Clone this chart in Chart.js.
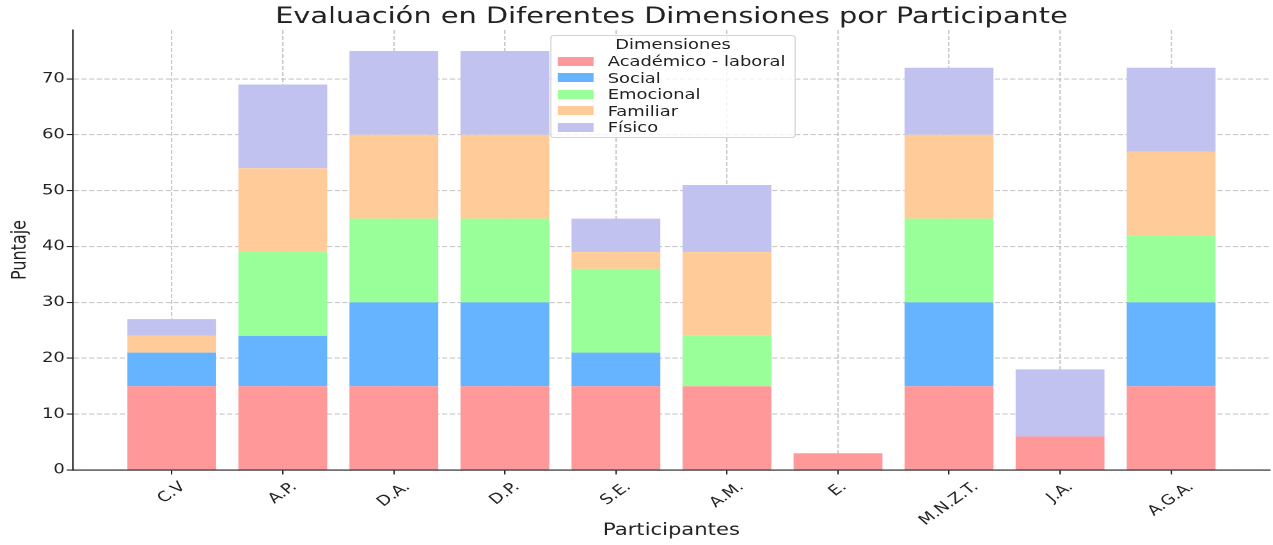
<!DOCTYPE html>
<html lang="es">
<head>
<meta charset="utf-8">
<title>Evaluación por participante</title>
<script src="https://cdn.jsdelivr.net/npm/chart.js@4.4.1/dist/chart.umd.min.js"></script>
<style>
    html, body { margin: 0; padding: 0; background: #fff; overflow: hidden; }
    /* la figura original viene estirada a lo ancho, se dibuja angosta y se estira */
    #lienzo {
        position: relative;
        width: 995px;
        height: 545px;
        transform: scaleX(1.2794);
        transform-origin: 0 0;
    }
    #leyenda {
        position: absolute;
        left: 430px;
        top: 35px;
        width: 190px;
        height: 101px;
        background: rgba(255, 255, 255, 0.8);
        border: 1px solid #d4d4d4;
        border-radius: 3px;
        font-family: 'DejaVu Sans', sans-serif;
        font-size: 14px;
        color: #222;
    }
    .fila { position: absolute; height: 16px; line-height: 16px; white-space: nowrap; }
    .caja { position: absolute; width: 28px; height: 9px; }
</style>
</head>
<body>
<div id="lienzo">
    <canvas id="grafico"></canvas>
    <div id="leyenda"></div>
</div>
<script>
const participantes = ['C.V', 'A.P.', 'D.A.', 'D.P.', 'S.E.', 'A.M.', 'E.', 'M.N.Z.T.', 'J.A.', 'A.G.A.'];

const academico = [15, 15, 15, 15, 15, 15, 3, 15, 6, 15];
const social = [6, 9, 15, 15, 6, 0, 0, 15, 0, 15];
const emocional = [0, 15, 15, 15, 15, 9, 0, 15, 0, 12];
const familiar = [3, 15, 15, 15, 3, 15, 0, 15, 0, 15];
const fisico = [3, 15, 15, 15, 6, 12, 0, 12, 12, 15];

const dimensiones = ['Académico - laboral', 'Social', 'Emocional', 'Familiar', 'Físico'];
const colores = ['#ff9999', '#66b3ff', '#99ff99', '#ffcc99', '#c2c2f0'];
const marcas_y = [0, 10, 20, 30, 40, 50, 60, 70];

const series = [academico, social, emocional, familiar, fisico];

const fuente = "'DejaVu Sans', sans-serif";
const gris_grilla = 'rgba(176, 176, 176, 0.7)';
const color_eje = '#222';

// etiquetas del eje x giradas y centradas en la marca (como matplotlib)
const etiquetasX = {
    id: 'etiquetasX',
    afterDraw(chart) {
        const eje = chart.scales.x;
        const ctx = chart.ctx;
        const angulo = 42 * Math.PI / 180;
        const tam = 14;
        ctx.save();
        ctx.font = `${tam}px ${fuente}`;
        ctx.fillStyle = color_eje;
        ctx.textAlign = 'center';
        ctx.textBaseline = 'middle';
        participantes.forEach(function (nombre, i) {
            const x = eje.getPixelForValue(i);
            const ancho = ctx.measureText(nombre).width;
            const alto_caja = ancho * Math.sin(angulo) + tam * 1.17 * Math.cos(angulo);
            const y = eje.top + 8.8 + alto_caja / 2;
            ctx.save();
            ctx.translate(x, y);
            ctx.rotate(-angulo);
            ctx.fillText(nombre, 0, 0);
            ctx.restore();
        });
        ctx.restore();
    }
};

const datasets = series.map(function (serie, k) {
    return {
        label: dimensiones[k],
        data: serie.map(function (v, i) { return { x: i, y: v }; }),
        backgroundColor: colores[k],
        borderWidth: 0,
        barPercentage: 0.8,
        categoryPercentage: 1
    };
});

new Chart(document.getElementById("grafico"), {
    type: 'bar',
    data: { datasets: datasets },
    plugins: [etiquetasX],
    options: {
        responsive: true,
        maintainAspectRatio: false,
        devicePixelRatio: 2,
        animation: false,
        layout: { padding: { top: 0, right: 2.4, bottom: 0, left: 0 } },
        plugins: {
            legend: { display: false },
            tooltip: { enabled: false },
            title: {
                display: true,
                fullSize: false,
                text: 'Evaluación en Diferentes Dimensiones por Participante',
                color: color_eje,
                font: { family: fuente, size: 22.5, weight: 'normal', lineHeight: 1 },
                padding: { top: 6, bottom: 1.5 }
            }
        },
        scales: {
            x: {
                type: 'linear',
                stacked: true,
                offset: false,
                min: -0.89,
                max: 9.89,
                z: 1,
                afterBuildTicks: function (eje) {
                    eje.ticks = participantes.map(function (_, i) { return { value: i }; });
                },
                afterFit: function (eje) { eje.height = 75; },
                ticks: { display: false },
                grid: {
                    offset: false,
                    color: gris_grilla,
                    lineWidth: 1.1,
                    drawTicks: true,
                    tickLength: 4.4,
                    tickColor: color_eje,
                    tickWidth: 1.1,
                    tickBorderDash: []
                },
                border: { display: true, color: color_eje, width: 1.1, dash: [4, 2] },
                title: {
                    display: true,
                    text: 'Participantes',
                    color: color_eje,
                    font: { family: fuente, size: 16.5 },
                    padding: { top: 0, bottom: 4.4 }
                }
            },
            y: {
                stacked: true,
                min: 0,
                max: 78.75,
                z: 1,
                afterBuildTicks: function (eje) {
                    eje.ticks = marcas_y.map(function (v) { return { value: v }; });
                },
                afterFit: function (eje) { eje.width = 57; },
                ticks: {
                    color: color_eje,
                    padding: 1.5,
                    font: { family: fuente, size: 14 }
                },
                grid: {
                    color: gris_grilla,
                    lineWidth: 1.1,
                    tickLength: 4.8,
                    tickColor: color_eje,
                    tickWidth: 1.1,
                    tickBorderDash: []
                },
                border: { display: true, color: color_eje, width: 1.1, dash: [4, 2] },
                title: {
                    display: true,
                    text: 'Puntaje',
                    color: color_eje,
                    font: { family: fuente, size: 16 },
                    padding: { top: 6, bottom: 0 }
                }
            }
        }
    }
});

// leyenda con título, dentro del área del gráfico
const leyenda = document.getElementById('leyenda');
let html = '<div class="fila" style="left:0;width:100%;text-align:center;top:0px">Dimensiones</div>';
dimensiones.forEach(function (nombre, i) {
    const centro = 25 + i * 16.5;
    html += `<div class="caja" style="left:5px;top:${centro - 4.5}px;background:${colores[i]}"></div>`;
    html += `<div class="fila" style="left:44px;top:${centro - 8}px">${nombre}</div>`;
});
leyenda.innerHTML = html;
</script>
</body>
</html>
